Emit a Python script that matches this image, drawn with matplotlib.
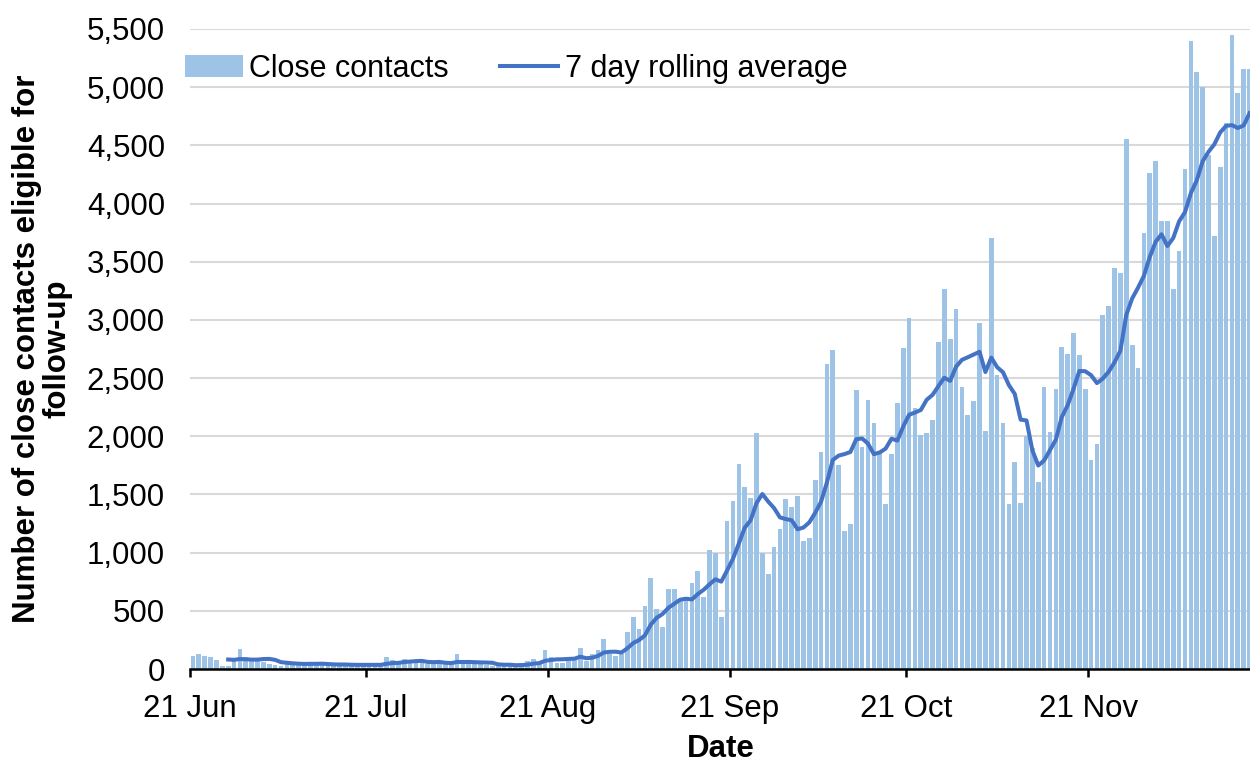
import numpy as np
import pandas as pd
import matplotlib
matplotlib.use("Agg")
import matplotlib.pyplot as plt
import matplotlib.dates as mdates
from matplotlib.ticker import StrMethodFormatter

plt.rcParams['font.family'] = ['Liberation Sans', 'DejaVu Sans']

# daily close contacts from 21 Jun
start_date = '2021-06-21'
contacts = [
    110, 125, 110, 100, 75, 25, 30, 90, 170, 100,
    80, 70, 60, 40, 35, 30, 60, 50, 50, 40,
    50, 35, 40, 35, 30, 45, 40, 35, 30, 40,
    35, 30, 40, 105, 75, 45, 90, 60, 60, 55,
    45, 60, 55, 40, 45, 125, 50, 50, 50, 40,
    35, 30, 25, 30, 50, 20, 45, 65, 90, 60,
    165, 100, 55, 55, 85, 105, 180, 70, 130, 165,
    260, 125, 115, 130, 320, 445, 345, 540, 780, 520,
    360, 690, 690, 595, 595, 735, 840, 620, 1020, 995,
    450, 1270, 1440, 1760, 1560, 1470, 2025, 1000, 815, 1050,
    1200, 1465, 1390, 1490, 1100, 1125, 1625, 1865, 2625, 2745,
    1755, 1190, 1250, 2395, 1910, 2315, 2110, 1855, 1420, 1845,
    2285, 2760, 3020, 2245, 2010, 2030, 2140, 2810, 3265, 2835,
    3095, 2425, 2185, 2305, 2975, 2045, 3700, 2525, 2115, 1415,
    1775, 1425, 2000, 1900, 1610, 2420, 2040, 2405, 2770, 2710,
    2885, 2700, 2405, 1800, 1930, 3045, 3120, 3450, 3400, 4555,
    2785, 2585, 3750, 4260, 4365, 3850, 3850, 3265, 3590, 4300,
    5400, 5130, 5000, 4420, 3720, 4310, 4690, 5450, 4950, 5160,
    5160,
]

# 7 day rolling average, first value on day 7
rolling_avg = [
    82, 79, 86, 84, 81, 81, 86, 87, 79,
    59, 54, 49, 46, 44, 45, 45, 46, 43, 40,
    39, 39, 37, 36, 36, 36, 36, 36, 45, 51,
    53, 60, 64, 68, 70, 61, 59, 61, 54, 51,
    61, 60, 61, 59, 57, 56, 54, 40, 37, 37,
    33, 34, 38, 46, 51, 71, 78, 83, 84, 87,
    89, 106, 93, 97, 113, 142, 148, 149, 142, 178,
    223, 249, 289, 382, 440, 473, 526, 561, 596, 604,
    598, 644, 681, 728, 771, 751, 847, 948, 1079, 1214,
    1278, 1425, 1504, 1439, 1383, 1303, 1289, 1278, 1201, 1216,
    1260, 1342, 1437, 1603, 1796, 1834, 1847, 1865, 1975, 1981,
    1937, 1846, 1861, 1894, 1979, 1963, 2084, 2185, 2204, 2226,
    2314, 2356, 2431, 2503, 2476, 2598, 2657, 2679, 2703, 2726,
    2552, 2676, 2594, 2550, 2440, 2364, 2143, 2136, 1879, 1749,
    1792, 1881, 1971, 2164, 2265, 2406, 2561, 2559, 2525, 2457,
    2496, 2555, 2636, 2736, 3043, 3184, 3277, 3378, 3541, 3671,
    3736, 3635, 3704, 3847, 3926, 4089, 4198, 4362, 4444, 4509,
    4611, 4667, 4674, 4649, 4671, 4777,
]

dates = pd.date_range(start_date, periods=len(contacts), freq='D')
centres = dates + pd.Timedelta(hours=12)
line_dates = centres[len(contacts) - len(rolling_avg):]

fig = plt.figure(figsize=(12.5, 7.62), dpi=100)
ax = fig.add_axes([0.152, 0.122, 0.85, 0.84])

bars = ax.bar(centres, contacts, width=0.8, color='#9DC3E6', label='Close contacts', zorder=2)
line, = ax.plot(line_dates, rolling_avg, color='#4472C4', lw=2.9, label='7 day rolling average', zorder=3)

ax.set_ylim(0, 5500)
ax.set_xlim(dates[0], dates[0] + pd.Timedelta(days=len(contacts)))
ax.set_yticks(np.arange(0, 5501, 500))
ax.yaxis.set_major_formatter(StrMethodFormatter('{x:,.0f}'))
ax.xaxis.set_major_locator(mdates.DayLocator(bymonthday=21))
ax.xaxis.set_major_formatter(mdates.DateFormatter('%d %b'))

ax.grid(axis='y', color='#D9D9D9', lw=1.5, zorder=0)
ax.set_axisbelow(True)
for s in ['top', 'right', 'left']:
    ax.spines[s].set_visible(False)
ax.spines['bottom'].set_linewidth(1.8)
ax.tick_params(axis='y', length=0, pad=18, labelsize=22.5)
ax.tick_params(axis='x', length=6, width=1.8, direction='out', pad=12, labelsize=22.5)

ax.set_xlabel('Date', fontsize=22.5, fontweight='bold', labelpad=7)
ax.set_ylabel('Number of close contacts eligible for\nfollow-up', fontsize=22.5,
              fontweight='bold', linespacing=1.0)
ax.yaxis.set_label_coords(-0.111, 0.5)

ax.legend([bars, line], ['Close contacts', '7 day rolling average'],
          loc='center left', bbox_to_anchor=(-0.005, 0.938), ncol=2, frameon=False,
          fontsize=22, borderpad=0, borderaxespad=0, handlelength=1.9,
          handletextpad=0.2, columnspacing=1.7)

fig.savefig('out.png', dpi=100)
